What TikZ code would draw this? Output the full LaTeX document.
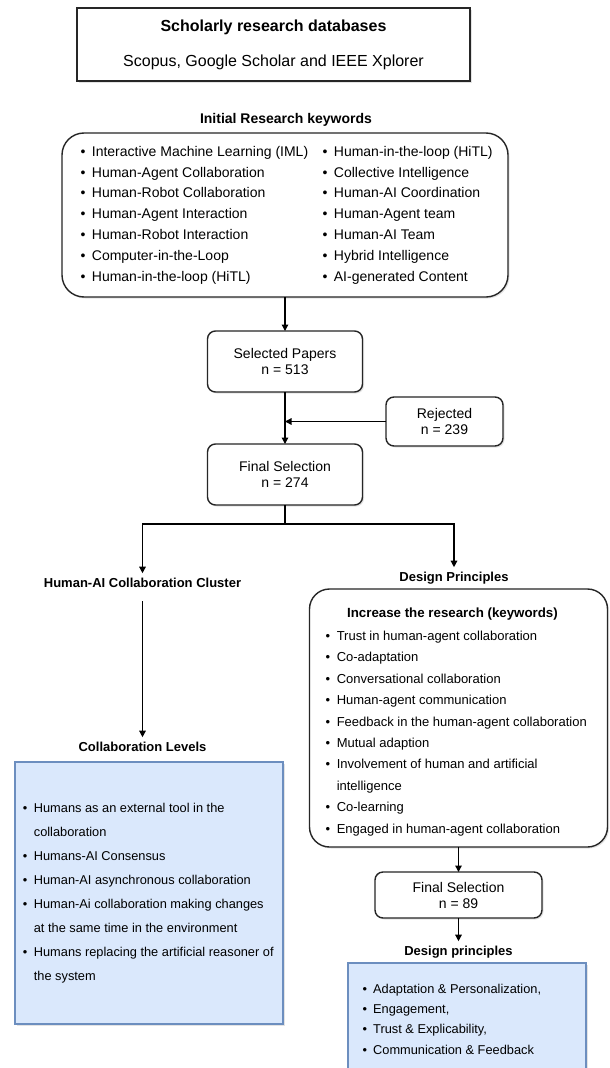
\documentclass[tikz,border=0pt]{standalone}
\usepackage{fontspec}
\setmainfont{Liberation Sans}
\usetikzlibrary{arrows.meta,shadows}
\definecolor{bfill}{RGB}{218,232,252}
\definecolor{bline}{RGB}{108,142,191}
\begin{document}
\begin{tikzpicture}[x=1pt,y=-1pt,
  every node/.style={inner sep=0pt, outer sep=0pt},
  shad/.style={drop shadow={opacity=0.22,shadow xshift=1.5pt,shadow yshift=-1.5pt}},
  frame/.style={draw=black!85, line width=1.4pt, fill=white, shad},
  rbox/.style={frame, rounded corners=8pt, align=center, font=\fontsize{14}{16}\selectfont},
  bluebox/.style={draw=bline, fill=bfill, line width=2pt, shad},
  lbl/.style={font=\fontsize{13}{15}\selectfont\bfseries, anchor=base, text height=9.5pt, text depth=2.5pt, inner ysep=5pt, inner xsep=2pt},
  arr/.style={line width=1.3pt, -{Triangle[length=6.5pt,width=6.5pt]}},
  plain/.style={line width=1.3pt},
  list/.style={anchor=west},
]
\clip (0,0) rectangle (610,1068);
\fill[white] (0,0) rectangle (610,1068);

% top box
\node[frame, minimum width=393pt, minimum height=73pt, align=center,
      font=\fontsize{16}{35}\selectfont] (db) at (273.5,44.5)
  {\textbf{Scholarly research databases}\\Scopus, Google Scholar and IEEE Xplorer};

% keywords
\node[lbl, font=\fontsize{14}{16}\selectfont\bfseries] (ini) at (286,123) {Initial Research keywords};
\node[frame, rounded corners=22pt, minimum width=446pt, minimum height=164pt] (kw) at (285,215) {};
\node[list, font=\fontsize{14}{20.8}\selectfont] (kwl) at (80.5,214.5) {%
\begin{tabular}{@{}l@{\hspace{6.5pt}}l@{}}
• & Interactive Machine Learning (IML)\\
• & Human-Agent Collaboration\\
• & Human-Robot Collaboration\\
• & Human-Agent Interaction\\
• & Human-Robot Interaction\\
• & Computer-in-the-Loop\\
• & Human-in-the-loop (HiTL)
\end{tabular}};
\node[list, font=\fontsize{14}{20.8}\selectfont] (kwr) at (322.5,214.5) {%
\begin{tabular}{@{}l@{\hspace{6.5pt}}l@{}}
• & Human-in-the-loop (HiTL)\\
• & Collective Intelligence\\
• & Human-AI Coordination\\
• & Human-Agent team\\
• & Human-AI Team\\
• & Hybrid Intelligence\\
• & AI-generated Content
\end{tabular}};

% selection boxes
\node[rbox, minimum width=155pt, minimum height=61pt] (sp) at (285,361.5) {Selected Papers\\n = 513};
\node[rbox, minimum width=117pt, minimum height=49pt] (rej) at (444.5,421.5) {Rejected\\n = 239};
\node[rbox, minimum width=155pt, minimum height=61pt] (fs) at (285,474.5) {Final Selection\\n = 274};

% left branch
\node[lbl] (hac) at (142.5,587.7) {Human-AI Collaboration Cluster};
\node[lbl] (cl) at (142.5,751.7) {Collaboration Levels};
\node[bluebox, minimum width=268pt, minimum height=262pt] (clbox) at (149,893) {};
\node[list, font=\fontsize{12.8}{24}\selectfont] (cll) at (22.9,892) {%
\begin{tabular}{@{}l@{\hspace{6.5pt}}l@{}}
• & Humans as an external tool in the\\
  & collaboration\\
• & Humans-AI Consensus\\
• & Human-AI asynchronous collaboration\\
• & Human-Ai collaboration making changes\\
  & at the same time in the environment\\
• & Humans replacing the artificial reasoner of\\
  & the system
\end{tabular}};

% right branch
\node[lbl] (dp) at (454,581.7) {Design Principles};
\node[frame, rounded corners=20pt, minimum width=298pt, minimum height=258pt] (rk) at (458.5,718) {};
\node[lbl, font=\fontsize{13.3}{15}\selectfont\bfseries] (rkt) at (452.5,617.8) {Increase the research (keywords)};
\node[list, font=\fontsize{13}{21.44}\selectfont] (rkl) at (325.7,732.5) {%
\begin{tabular}{@{}l@{\hspace{6.5pt}}l@{}}
• & Trust in human-agent collaboration\\
• & Co-adaptation\\
• & Conversational collaboration\\
• & Human-agent communication\\
• & Feedback in the human-agent collaboration\\
• & Mutual adaption\\
• & Involvement of human and artificial\\
  & intelligence\\
• & Co-learning\\
• & Engaged in human-agent collaboration
\end{tabular}};
\node[rbox, minimum width=167pt, minimum height=46pt] (fs2) at (458.5,895) {Final Selection\\n = 89};
\node[lbl] (dp2) at (458.5,955.7) {Design principles};
\node[bluebox, minimum width=238pt, minimum height=117pt] (dpbox) at (467,1021.5) {};
\node[list, font=\fontsize{12.8}{20.3}\selectfont] (dpl) at (362.7,1019.5) {%
\begin{tabular}{@{}l@{\hspace{6pt}}l@{}}
• & Adaptation \& Personalization,\\
• & Engagement,\\
• & Trust \& Explicability,\\
• & Communication \& Feedback
\end{tabular}};

% connectors
\coordinate (br) at (285,524);
\draw[arr] (kw) -- (sp);
\draw[arr] (sp) -- (fs);
\draw[arr] (rej) -- (rej -| sp);
\draw[plain] (fs) -- (br);
\draw[arr] (br) -| (hac);
\draw[arr] (br) -| (dp);
\draw[arr, shorten <=6pt] (hac) -- (cl);
\draw[arr] (rk) -- (fs2);
\draw[arr] (fs2) -- (dp2);
\end{tikzpicture}
\end{document}
